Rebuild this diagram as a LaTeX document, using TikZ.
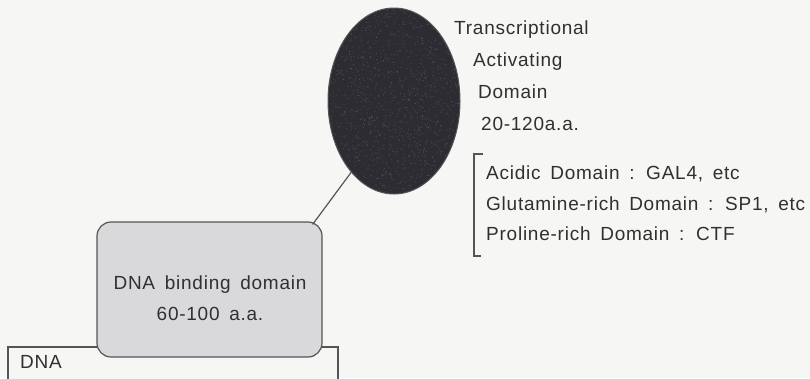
\documentclass[tikz,border=0pt]{standalone}
\usepackage{fontspec}
\setmainfont{Liberation Sans}[LetterSpace=4, WordSpace=1.6]
\usetikzlibrary{shapes.geometric,calc}

\definecolor{paper}{HTML}{F6F6F4}
\definecolor{ink}{HTML}{303030}
\definecolor{rule}{HTML}{555555}
\definecolor{boxfill}{HTML}{D9D8DA}
\definecolor{blob}{HTML}{2D2C33}

\tikzset{
  lbl/.style={inner sep=0pt, text=ink, font=\fontsize{19}{22}\selectfont},
  rule/.style={draw=rule, line width=1.2pt},
}

\begin{document}
\begin{tikzpicture}[x=1pt, y=-1pt]
  % page
  \fill[paper] (0,0) rectangle (810,378);
  \useasboundingbox (0,0) rectangle (810,378);

  % DNA strand (runs off the bottom edge)
  \draw[rule, fill=paper] (8,347) rectangle (338,395);
  \node[lbl, anchor=base west] (dna) at (20,368) {DNA};

  % DNA binding domain
  \node[rule, fill=boxfill, rounded corners=14pt, minimum width=225pt,
        minimum height=135pt, inner sep=0pt] (box) at (209.5,289.5) {};
  \node[lbl, anchor=base] (bd1) at (210,289) {DNA binding domain};
  \node[lbl, anchor=base] (bd2) at (210,320) {60-100 a.a.};

  % transcriptional activating domain
  \node[ellipse, draw=rule, line width=1pt, fill=blob, minimum width=132pt,
        minimum height=186pt, inner sep=0pt] (ell) at (394,101) {};
  \begin{scope}
    \clip (394,101) ellipse (65pt and 92pt);
    \pgfmathsetseed{7}
    \foreach \i in {1,...,1400}{
      \pgfmathsetmacro\px{394+66*rand}
      \pgfmathsetmacro\py{101+93*rand}
      \fill[white, opacity=0.16] (\px,\py) circle (0.55pt);
    }
  \end{scope}

  % linker between the two domains
  \coordinate (jn) at ($(box.north east)+(-10pt,-3pt)$);
  \draw[rule] (ell.239) -- (jn);

  % labels
  \node[lbl, anchor=base west] (t1) at (454,34) {Transcriptional};
  \node[lbl, anchor=base west] (t2) at (473,66) {Activating};
  \node[lbl, anchor=base west] (t3) at (478,98) {Domain};
  \node[lbl, anchor=base west] (t4) at (481,130) {20-120a.a.};

  \draw[rule] (483,154) -- (474,154) -- (474,256) -- (481,256);
  \node[lbl, anchor=base west] (c1) at (486,179) {Acidic Domain : GAL4, etc};
  \node[lbl, anchor=base west] (c2) at (486,210) {Glutamine-rich Domain : SP1, etc};
  \node[lbl, anchor=base west] (c3) at (486,240) {Proline-rich Domain : CTF};
\end{tikzpicture}
\end{document}
